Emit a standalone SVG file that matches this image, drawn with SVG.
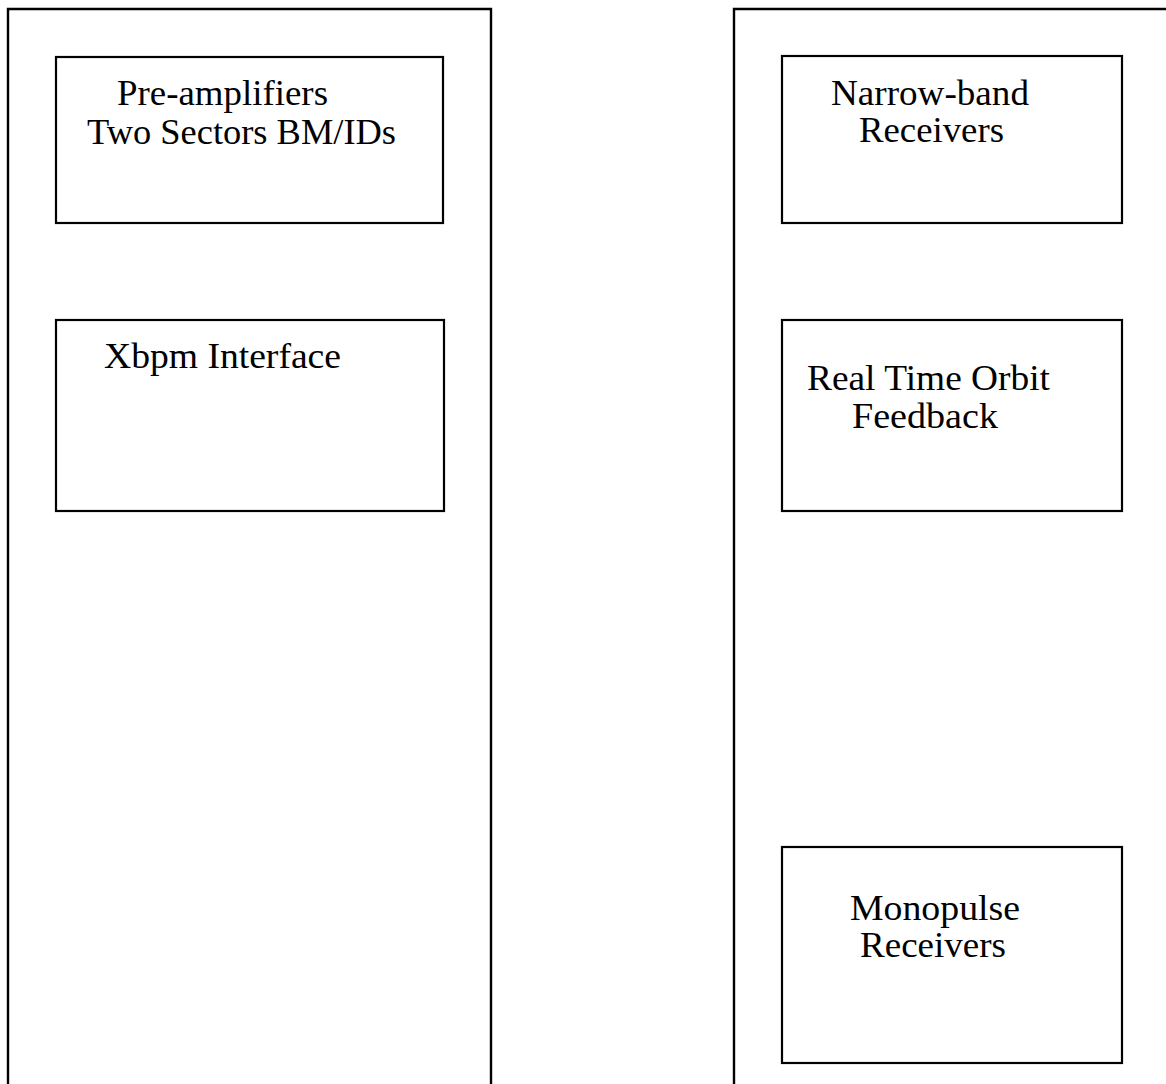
<svg xmlns="http://www.w3.org/2000/svg" width="1166" height="1084" viewBox="0 0 1166 1084">
<style>
.rack{fill:none;stroke:#000;stroke-width:2.4}
.box{fill:#fff;stroke:#000;stroke-width:2.2}
.t{font-family:"Liberation Serif","Times New Roman",serif;font-size:36px;fill:#000}
</style>
<rect width="1166" height="1084" fill="#fff"/>
<g id="rack-left"><path class="rack" d="M8,1090 V9 H491 V1090"/></g>
<g id="rack-right"><path class="rack" d="M734,1090 V9 H1170"/></g>
<g id="preamp">
<rect class="box" x="56" y="57" width="387" height="166"/>
<text class="t" x="117" y="105" textLength="211" lengthAdjust="spacingAndGlyphs">Pre-amplifiers</text>
<text class="t" x="87" y="144" textLength="309" lengthAdjust="spacingAndGlyphs">Two Sectors BM/IDs</text>
</g>
<g id="xbpm">
<rect class="box" x="56" y="320" width="388" height="191"/>
<text class="t" x="104" y="368" textLength="237" lengthAdjust="spacingAndGlyphs">Xbpm Interface</text>
</g>
<g id="narrowband">
<rect class="box" x="782" y="56" width="340" height="167"/>
<text class="t" x="831" y="105" textLength="198" lengthAdjust="spacingAndGlyphs">Narrow-band</text>
<text class="t" x="859" y="142" textLength="145" lengthAdjust="spacingAndGlyphs">Receivers</text>
</g>
<g id="rtof">
<rect class="box" x="782" y="320" width="340" height="191"/>
<text class="t" x="807" y="390" textLength="243" lengthAdjust="spacingAndGlyphs">Real Time Orbit</text>
<text class="t" x="852" y="428" textLength="146" lengthAdjust="spacingAndGlyphs">Feedback</text>
</g>
<g id="monopulse">
<rect class="box" x="782" y="847" width="340" height="216"/>
<text class="t" x="850" y="920" textLength="170" lengthAdjust="spacingAndGlyphs">Monopulse</text>
<text class="t" x="860" y="957" textLength="146" lengthAdjust="spacingAndGlyphs">Receivers</text>
</g>
<g id="connectors"></g>
</svg>
